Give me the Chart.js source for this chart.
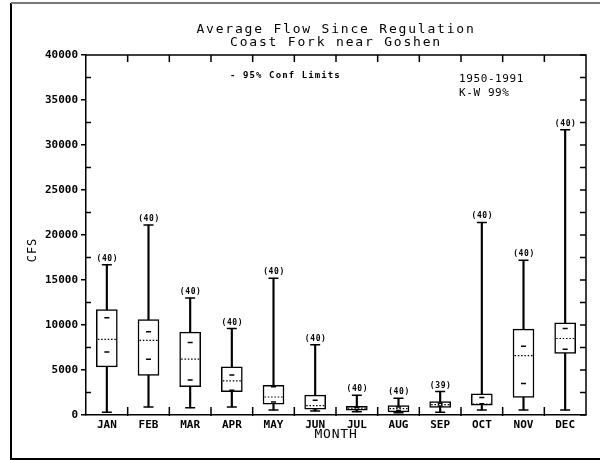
<!DOCTYPE html>
<html>
<head>
<meta charset="utf-8">
<script src="https://cdn.jsdelivr.net/npm/chart.js@4/dist/chart.umd.min.js"></script>
<style>
  html, body { margin: 0; padding: 0; background: #fff; }
</style>
</head>
<body>
<canvas id="flowChart" width="600" height="460"></canvas>
<script>
const months = ['JAN', 'FEB', 'MAR', 'APR', 'MAY', 'JUN', 'JUL', 'AUG', 'SEP', 'OCT', 'NOV', 'DEC'];
const whiskerHigh = [16700, 21100, 13000, 9600, 15200, 7800, 2200, 1850, 2600, 21400, 17200, 31700];
const whiskerLow = [300, 900, 800, 900, 550, 450, 350, 250, 300, 550, 550, 550];
const boxHigh = [11700, 10600, 9200, 5350, 3300, 2200, 950, 1050, 1500, 2350, 9550, 10250];
const boxLow = [5350, 4400, 3150, 2600, 1200, 650, 550, 350, 850, 1100, 1950, 6850];
const medians = [8400, 8300, 6200, 3800, 2000, 1050, 750, 700, 1150, 1200, 6600, 8500];
const confHigh = [10800, 9250, 8050, 4450, 3150, 1650, 850, 900, 1300, 1950, 7650, 9600];
const confLow = [7000, 6200, 3900, 2750, 1450, 700, 600, 500, 1000, 1250, 3500, 7300];
const counts = [40, 40, 40, 40, 40, 40, 40, 40, 39, 40, 40, 40];
const yMax = 40000;
const yStep = 5000;

const MONO = '"DejaVu Sans Mono", monospace';

function drawText(ctx, text, x, y, font, spacing, align) {
  ctx.save();
  ctx.font = font;
  ctx.letterSpacing = spacing + 'px';
  ctx.textAlign = align || 'left';
  ctx.textBaseline = 'middle';
  ctx.fillStyle = '#000';
  ctx.fillText(text, x, y);
  ctx.restore();
}

// medianes pointillees, effectifs et traits d'axes
const boxExtras = {
  id: 'boxExtras',
  afterDatasetsDraw: (chart) => {
    const ctx = chart.ctx;
    const xs = chart.scales.x;
    const ys = chart.scales.y;
    ctx.save();
    ctx.strokeStyle = '#000';
    ctx.lineWidth = 1.2;
    ctx.setLineDash([1.5, 1.8]);
    months.forEach((m, i) => {
      const x = xs.getPixelForValue(i);
      const y = ys.getPixelForValue(medians[i]);
      ctx.beginPath();
      ctx.moveTo(x - 9, y);
      ctx.lineTo(x + 9, y);
      ctx.stroke();
    });
    ctx.restore();

    months.forEach((m, i) => {
      const x = xs.getPixelForValue(i);
      const y = ys.getPixelForValue(whiskerHigh[i]);
      drawText(ctx, '(' + counts[i] + ')', x + 0.5, y - 6, 'bold 8px ' + MONO, 0.6, 'center');
    });
  },
  afterDraw: (chart) => {
    const ctx = chart.ctx;
    const area = chart.chartArea;
    const xs = chart.scales.x;
    const ys = chart.scales.y;

    ctx.save();
    ctx.strokeStyle = '#000';
    ctx.lineWidth = 1.5;
    // cadre haut et droit
    ctx.beginPath();
    ctx.moveTo(area.left, area.top);
    ctx.lineTo(area.right, area.top);
    ctx.lineTo(area.right, area.bottom);
    ctx.stroke();

    // petits traits gauche / droite
    for (let v = 0; v <= yMax; v += yStep / 2) {
      const y = ys.getPixelForValue(v);
      ctx.beginPath();
      ctx.moveTo(area.right - 6, y);
      ctx.lineTo(area.right, y);
      if (v % yStep !== 0) {
        ctx.moveTo(area.left, y);
        ctx.lineTo(area.left + 5, y);
      }
      ctx.stroke();
    }
    // traits entre les mois, en haut et en bas
    for (let i = 1; i < months.length; i++) {
      const x = (xs.getPixelForValue(i - 1) + xs.getPixelForValue(i)) / 2;
      ctx.beginPath();
      ctx.moveTo(x, area.top);
      ctx.lineTo(x, area.top + 7);
      ctx.moveTo(x, area.bottom + 1);
      ctx.lineTo(x, area.bottom - 8);
      ctx.stroke();
    }

    // cadre de la page
    ctx.lineWidth = 2;
    ctx.beginPath();
    ctx.moveTo(11, 3);
    ctx.lineTo(11, 459);
    ctx.lineTo(600, 459);
    ctx.stroke();
    ctx.strokeStyle = '#777';
    ctx.beginPath();
    ctx.moveTo(11, 3);
    ctx.lineTo(600, 3);
    ctx.stroke();
    ctx.restore();

    const cx = (area.left + area.right) / 2;
    drawText(ctx, 'Average Flow Since Regulation', cx, 30, '13px ' + MONO, 1.8, 'center');
    drawText(ctx, 'Coast Fork near Goshen', cx, 43, '13px ' + MONO, 1.8, 'center');
    drawText(ctx, '- 95% Conf Limits', 230, 76, 'bold 9px ' + MONO, 1.1);
    drawText(ctx, '1950-1991', 459, 79, '11px ' + MONO, 0.6);
    drawText(ctx, 'K-W 99%', 459, 93, '11px ' + MONO, 0.6);
    drawText(ctx, 'MONTH', cx, 435, '13px ' + MONO, 0.8, 'center');

    ctx.save();
    ctx.translate(33, 250);
    ctx.rotate(-Math.PI / 2);
    drawText(ctx, 'CFS', 0, 0, '12px ' + MONO, 1, 'center');
    ctx.restore();
  }
};

const ctx = document.getElementById('flowChart').getContext('2d');
new Chart(ctx, {
  type: 'bar',
  data: {
    labels: months,
    datasets: [
      {
        label: 'range',
        data: months.map((m, i) => [whiskerLow[i], whiskerHigh[i]]),
        backgroundColor: '#000',
        barThickness: 1.5,
        grouped: false,
        order: 3
      },
      {
        label: 'box',
        data: months.map((m, i) => [boxLow[i], boxHigh[i]]),
        backgroundColor: '#fff',
        borderColor: '#000',
        borderWidth: 1.5,
        borderSkipped: false,
        barThickness: 21,
        grouped: false,
        order: 2
      },
      {
        type: 'line',
        label: 'caps',
        data: months.flatMap((m, i) => [{ x: m, y: whiskerHigh[i] }, { x: m, y: whiskerLow[i] }]),
        showLine: false,
        pointStyle: 'line',
        pointRadius: 5,
        pointBorderWidth: 1.5,
        pointBorderColor: '#000',
        order: 1
      },
      {
        type: 'line',
        label: 'conf',
        data: months.flatMap((m, i) => [{ x: m, y: confHigh[i] }, { x: m, y: confLow[i] }]),
        showLine: false,
        pointStyle: 'line',
        pointRadius: 2.5,
        pointBorderWidth: 1.5,
        pointBorderColor: '#000',
        order: 1
      }
    ]
  },
  options: {
    responsive: false,
    animation: false,
    events: [],
    layout: { padding: { top: 55, right: 14, left: 0, bottom: 0 } },
    plugins: {
      legend: { display: false },
      tooltip: { enabled: false }
    },
    scales: {
      x: {
        type: 'category',
        offset: true,
        grid: { display: false, drawTicks: false },
        border: { display: true, color: '#000', width: 1.5 },
        ticks: {
          color: '#000',
          padding: 4,
          maxRotation: 0,
          autoSkip: false,
          font: { family: MONO, size: 11, weight: 'bold' }
        },
        afterFit: (s) => { s.height = 45; }
      },
      y: {
        min: 0,
        max: yMax,
        grid: { drawOnChartArea: false, tickLength: 5, color: '#000', lineWidth: 1.5 },
        border: { display: true, color: '#000', width: 1.5 },
        ticks: {
          stepSize: yStep,
          color: '#000',
          padding: 3,
          font: { family: MONO, size: 11, weight: 'bold' },
          callback: (v) => String(v)
        },
        afterFit: (s) => { s.width = 86; }
      }
    }
  },
  plugins: [boxExtras]
});
</script>
</body>
</html>
